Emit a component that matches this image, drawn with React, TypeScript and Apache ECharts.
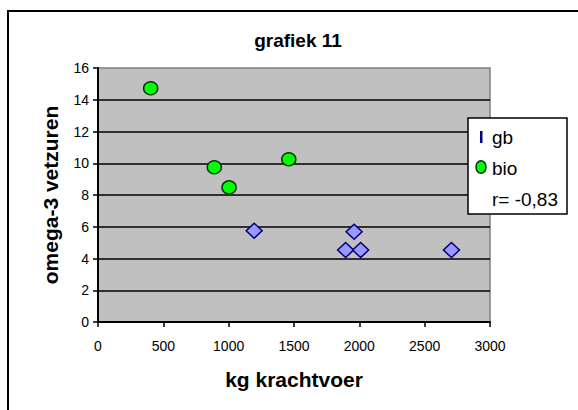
import React, { useEffect, useRef } from "react";
import * as echarts from "echarts";

const titleText = "grafiek 11";
const xName = "kg krachtvoer";
const yName = "omega-3 vetzuren";
const gbName = "gb";
const bioName = "bio";
const rText = "r= -0,83";

const gbData: [number, number][] = [
  [1195, 5.75],
  [1960, 5.69],
  [1895, 4.53],
  [2010, 4.53],
  [2705, 4.53],
];
const bioData: [number, number][] = [
  [403, 14.72],
  [890, 9.75],
  [1003, 8.48],
  [1460, 10.25],
];

const FONT = "Arial, 'Liberation Sans', sans-serif";

export default function App() {
  const ref = useRef<HTMLDivElement>(null);
  useEffect(() => {
    if (!ref.current) return;
    const chart = echarts.init(ref.current, null, { renderer: "svg" });
    const legendText = (text: string, y: number) => ({
      type: "text",
      x: 492,
      y,
      z: 110,
      style: {
        text,
        fontSize: 19,
        fontFamily: FONT,
        fill: "#000",
        verticalAlign: "middle",
        align: "left",
      },
    });
    chart.setOption({
      animation: false,
      backgroundColor: "#ffffff",
      textStyle: { fontFamily: FONT },
      title: {
        text: titleText,
        left: 293,
        top: 26,
        textAlign: "center",
        textStyle: { fontSize: 19, fontWeight: "bold", color: "#000", fontFamily: FONT },
      },
      grid: {
        left: 98,
        top: 68,
        right: 88,
        bottom: 88,
        show: true,
        backgroundColor: "#c0c0c0",
        borderColor: "#808080",
        borderWidth: 1.5,
      },
      xAxis: {
        type: "value",
        min: 0,
        max: 3000,
        interval: 500,
        name: xName,
        nameLocation: "middle",
        nameGap: 47,
        nameTextStyle: { fontSize: 21, fontWeight: "bold", color: "#000", fontFamily: FONT },
        axisLine: { show: true, onZero: false, lineStyle: { color: "#000", width: 2 } },
        axisTick: { show: true, inside: false, length: 5, lineStyle: { color: "#000", width: 1.5 } },
        axisLabel: {
          margin: 17,
          fontSize: 14,
          color: "#000",
          fontFamily: FONT,
          formatter: (v: number) => String(v),
        },
        splitLine: { show: false },
      },
      yAxis: {
        type: "value",
        min: 0,
        max: 16,
        interval: 2,
        name: yName,
        nameLocation: "middle",
        nameGap: 37,
        nameTextStyle: { fontSize: 21, fontWeight: "bold", color: "#000", fontFamily: FONT },
        axisLine: { show: true, onZero: false, lineStyle: { color: "#000", width: 2 } },
        axisTick: { show: true, inside: false, length: 5, lineStyle: { color: "#000", width: 1.5 } },
        axisLabel: { margin: 9, fontSize: 14, color: "#000", fontFamily: FONT },
        splitLine: {
          show: true,
          showMinLine: false,
          showMaxLine: false,
          lineStyle: { color: "#000", width: 1.5 },
        },
      },
      series: [
        {
          name: gbName,
          type: "scatter",
          symbol: "diamond",
          symbolSize: [16, 15],
          data: gbData,
          itemStyle: { color: "#9999ff", borderColor: "#000080", borderWidth: 1.5, opacity: 1 },
          z: 3,
        },
        {
          name: bioName,
          type: "scatter",
          symbol: "circle",
          symbolSize: [14, 13],
          data: bioData,
          itemStyle: { color: "#00ff00", borderColor: "#0a330a", borderWidth: 1.5, opacity: 1 },
          z: 3,
        },
      ],
      graphic: [
        {
          type: "rect",
          z: 100,
          shape: { x: 8, y: 11, width: 700, height: 500 },
          style: { fill: "none", stroke: "#000", lineWidth: 2 },
          silent: true,
        },
        {
          type: "rect",
          z: 100,
          shape: { x: 468, y: 118, width: 99, height: 96 },
          style: { fill: "#ffffff", stroke: "#000", lineWidth: 1.5 },
        },
        {
          type: "rect",
          z: 110,
          shape: { x: 480, y: 131, width: 2.5, height: 12 },
          style: { fill: "#00007f" },
        },
        legendText(gbName, 137),
        {
          type: "ellipse",
          z: 110,
          shape: { cx: 481, cy: 167, rx: 5, ry: 6.3 },
          style: { fill: "#00ff00", stroke: "#0a330a", lineWidth: 1.5 },
        },
        legendText(bioName, 168),
        legendText(rText, 199),
      ],
    });
    return () => chart.dispose();
  }, []);
  return (
    <div
      ref={ref}
      style={{ position: "fixed", left: 0, top: 0, width: 578, height: 410 }}
    />
  );
}
